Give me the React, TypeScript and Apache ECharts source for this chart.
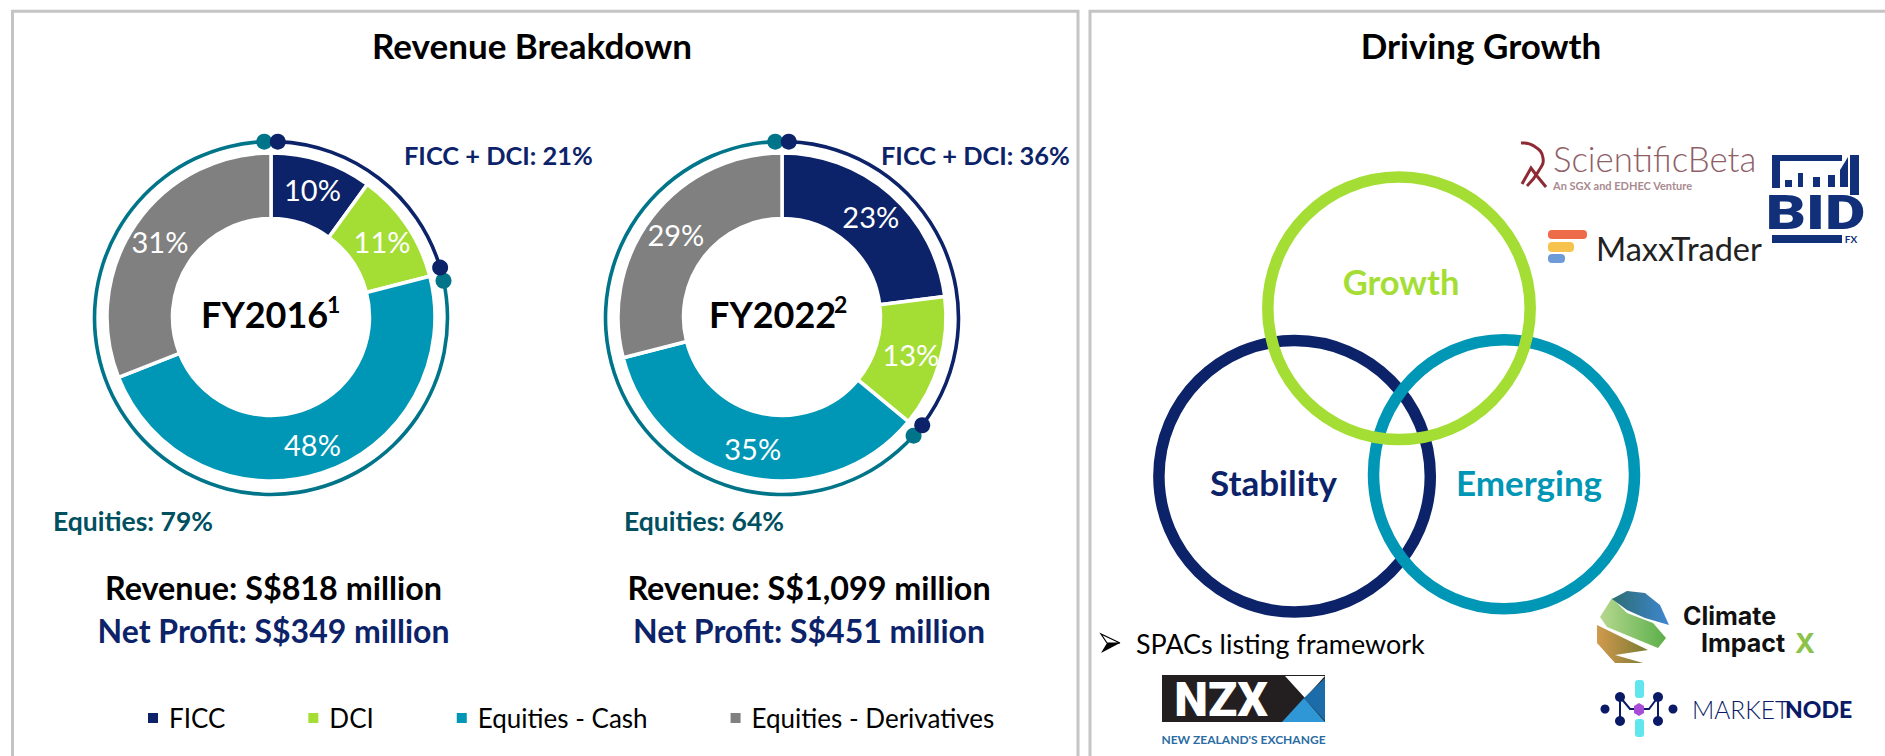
import React, { useEffect, useRef } from "react";
import * as echarts from "echarts";

const categories = ["FICC", "DCI", "Equities - Cash", "Equities - Derivatives"];
const colors = ["#0C2369", "#A4DE34", "#0096B5", "#808080"];
const fy2016 = [10, 11, 48, 31];
const fy2022 = [23, 13, 35, 29];
const groupNames = ["FICC + DCI", "Equities"];
const groups2016 = [21, 79];
const groups2022 = [36, 64];
const FONT = "Lato";
const NAVY = "#0C2369";
const RING_TEAL = "#00758A";
const DARK_TEAL = "#00505F";

const c1 = [271, 317];
const c2 = [782, 317];
const RING_R = 176.5;
const GAP = 4.4;

function T(text: string, x: number, y: number, size: number, weight: string | number, fill: string, align = "center", family = FONT, extra: any = {}): any {
  const { lineHeight, ...el } = extra;
  return {
    type: "text", x, y, z: 12, ...el,
    style: { text, fill, fontSize: size, fontWeight: weight, fontFamily: family, textAlign: align, textVerticalAlign: "middle", ...(lineHeight ? { lineHeight } : {}) },
  };
}
function R(x: number, y: number, width: number, height: number, fill: string, r = 0): any {
  return { type: "rect", z: 11, shape: { x, y, width, height, r }, style: { fill } };
}
function P(points: number[][], fill: any): any {
  return { type: "polygon", z: 11, shape: { points }, style: { fill } };
}
function L(points: number[][], stroke: string, lineWidth: number, smooth = 0): any {
  return { type: "polyline", z: 11, shape: { points, smooth }, style: { stroke, lineWidth, fill: "none" } };
}
function Dot(x: number, y: number, r: number, fill: string): any {
  return { type: "circle", z: 11, shape: { cx: x, cy: y, r }, style: { fill } };
}
function Ring(x: number, y: number, rx: number, ry: number, stroke: string, w: number): any {
  return { type: "ellipse", z: 11, shape: { cx: x, cy: y, rx, ry }, style: { fill: "none", stroke, lineWidth: w } };
}
function grad(a: string, b: string, horizontal = true): any {
  return { type: "linear", x: 0, y: 0, x2: horizontal ? 1 : 0, y2: horizontal ? 0 : 1, colorStops: [{ offset: 0, color: a }, { offset: 1, color: b }] };
}
function dotsFor(center: number[], groups: number[]): any[] {
  const sweep = (groups[0] / 100) * 360;
  const pt = (deg: number, fill: string) => {
    const a = (deg * Math.PI) / 180;
    return { type: "circle", z: 13, shape: { cx: center[0] + RING_R * Math.sin(a), cy: center[1] + 1 - RING_R * Math.cos(a), r: 8 }, style: { fill } };
  };
  return [pt(-GAP / 2, RING_TEAL), pt(sweep + GAP / 2, RING_TEAL), pt(GAP / 2, NAVY), pt(sweep - GAP / 2, NAVY)];
}
function donut(name: string, center: number[], values: number[]): any {
  return {
    type: "pie", name, center, radius: [98.5, 164], startAngle: 90, clockwise: true, silent: true,
    itemStyle: { borderColor: "#fff", borderWidth: 3.5 },
    label: { show: true, position: "inside", formatter: "{c}%", color: "#fff", fontSize: 29, fontFamily: FONT },
    labelLine: { show: false },
    data: categories.map((c, i) => ({ name: c, value: values[i], itemStyle: { color: colors[i] } })),
  };
}
function arcs(center: number[], groups: number[]): any {
  return {
    type: "pie", center: [center[0], center[1] + 1], radius: [RING_R - 1.8, RING_R + 1.8], startAngle: 90, silent: true,
    padAngle: GAP, label: { show: false }, labelLine: { show: false }, itemStyle: { borderWidth: 0 },
    data: groupNames.map((n, i) => ({ name: n, value: groups[i], itemStyle: { color: i === 0 ? NAVY : RING_TEAL } })),
  };
}

function panels(): any[] {
  const g = "#C4C4C4";
  return [
    L([[12.5, 756], [12.5, 11.3], [1078, 11.3], [1078, 756]], g, 3),
    L([[1090, 756], [1090, 11.3], [1885, 11.3]], g, 3),
  ];
}
function venn(): any[] {
  return [
    Ring(1294.6, 476.3, 135.7, 135.7, NAVY, 11.5),
    Ring(1504, 474.3, 130.5, 134.5, "#0096B5", 11.5),
    Ring(1399, 308.3, 131.2, 131.2, "#A4DE34", 11.5),
    T("Growth", 1401, 281, 34.5, 700, "#A4DE34"),
    T("Stability", 1273.5, 481.5, 35, 700, NAVY),
    T("Emerging", 1529, 481.5, 35, 700, "#0096B5"),
  ];
}
function logos(): any[] {
  const navy = "#12307A";
  const node = "#0B1A66";
  return [
    // Scientific Beta
    T("ScientificBeta", 1553, 158, 34.8, 300, "#8F5F68", "left", FONT, { lineHeight: 26 }),
    T("An SGX and EDHEC Venture", 1553, 185.5, 11, 700, "#A98A90", "left"),
    L([[1521, 143], [1534, 146], [1543, 158], [1538, 172], [1527, 186]], "#8E2A33", 3, 0.5),
    L([[1522, 184], [1531, 168], [1537, 176], [1546, 187]], "#8E2A33", 3),
    // BID FX
    R(1772, 155, 70, 6, navy), R(1772, 155, 8, 33, navy), R(1850, 155, 9, 40, navy),
    R(1785, 180, 7, 7, navy), R(1798, 173, 5, 14, navy), R(1813, 177, 7, 10, navy), R(1828, 175, 7, 12, navy),
    P([[1840, 187], [1840, 170], [1848, 157], [1848, 187]], navy),
    T("BID", 1815.5, 212.5, 48, 900, navy, "center", "Roboto", { scaleX: 1.3, lineHeight: 24 }),
    R(1772, 235, 70, 8, navy),
    T("FX", 1851, 239, 10, 700, navy),
    // MaxxTrader
    R(1548, 230, 39, 9, "#EE6B4A", 4), R(1548, 242, 26, 10, "#F6C34E", 4), R(1548, 254, 17, 9, "#6C9BD8", 4),
    T("MaxxTrader", 1596, 248, 32.5, 400, "#222", "left"),
    // Climate Impact X
    P([[1597, 625], [1648, 650], [1615, 655], [1643, 663], [1615, 663], [1597, 643]], grad("#D19A4D", "#7A7A33")),
    P([[1612, 598], [1600, 617], [1607, 627], [1658, 648], [1666, 638], [1653, 623], [1627, 613]], grad("#B6D88F", "#5CAF4A")),
    P([[1627, 591], [1645, 593], [1660, 605], [1669, 625], [1645, 618], [1627, 610], [1612, 599]], grad("#2C6E73", "#3F86D0")),
    T("Climate", 1683, 616, 25, 700, "#111", "left", "Inter"),
    T("Impact", 1701, 643, 25, 700, "#111", "left", "Inter"),
    T("X", 1795, 643, 27, 700, "#8BC34A", "left", "Inter"),
    // Marketnode
    R(1635, 680, 9, 18, "#62E6EE", 3), R(1635, 719, 9, 18, "#62E6EE", 3),
    L([[1620, 697], [1630, 709], [1649, 709], [1658, 697]], node, 2),
    L([[1620, 697], [1620, 721]], node, 2),
    L([[1658, 697], [1658, 721]], node, 2),
    Dot(1620, 697, 5, node), Dot(1658, 697, 5, node), Dot(1620, 721, 5, node), Dot(1658, 721, 5, node),
    Dot(1605, 709, 4.5, node), Dot(1673, 709, 4.5, node),
    P([[1634, 706], [1639, 703], [1644, 706], [1644, 713], [1639, 716], [1634, 713]], "#A84BD6"),
    T("MARKET", 1692, 709, 24.5, 300, node, "left"),
    T("NODE", 1785, 709, 23, 900, node, "left"),
    // NZX
    R(1162, 675, 163, 47, "#231F20"),
    T("NZX", 1221, 699, 48, 900, "#fff", "center", "Roboto"),
    P([[1285, 676], [1325, 676], [1305, 698]], "#fff"),
    P([[1325, 678], [1325, 721], [1304, 698]], "#1B6CA8"),
    P([[1282, 722], [1325, 722], [1304, 698]], "#2F97D5"),
    T("NEW ZEALAND'S EXCHANGE", 1243.5, 739, 12, 700, "#2B6CA3"),
  ];
}
function texts(): any[] {
  return [
    T("Revenue Breakdown", 532, 45, 35, 700, "#000"),
    T("Driving Growth", 1481, 45, 35, 700, "#000"),
    T("FY2016", 201, 314, 36, 700, "#000", "left"),
    T("1", 327, 304, 23, 700, "#000", "left"),
    T("FY2022", 709, 314, 36, 700, "#000", "left"),
    T("2", 834, 304, 23, 700, "#000", "left"),
    T(`${groupNames[0]}: ${groups2016[0]}%`, 404, 155, 25.4, 700, NAVY, "left"),
    T(`${groupNames[0]}: ${groups2022[0]}%`, 881, 155, 25.4, 700, NAVY, "left"),
    T(`${groupNames[1]}: ${groups2016[1]}%`, 53, 521, 26.5, 700, DARK_TEAL, "left"),
    T(`${groupNames[1]}: ${groups2022[1]}%`, 624, 521, 26.5, 700, DARK_TEAL, "left"),
    T("Revenue: S$818 million", 273.5, 587, 32.3, 700, "#000"),
    T("Net Profit: S$349 million", 273.5, 630, 32, 700, NAVY),
    T("Revenue: S$1,099 million", 809, 587, 32.3, 700, "#000"),
    T("Net Profit: S$451 million", 809, 630, 32, 700, NAVY),
    T("SPACs listing framework", 1136, 643, 26.9, 400, "#000", "left"),
    P([[1120, 643], [1101, 653], [1107, 643]], "#000"),
    L([[1107, 643], [1101, 634], [1120, 643], [1107, 643]], "#000", 1.2),
  ];
}

export default function App() {
  const ref = useRef<HTMLDivElement>(null);
  useEffect(() => {
    document.body.style.margin = "0";
    const chart = echarts.init(ref.current!, undefined, { renderer: "svg" });
    chart.setOption({
      animation: false,
      backgroundColor: "#fff",
      legend: {
        data: categories, left: 146, top: 705, padding: 0, itemWidth: 12, itemHeight: 12, itemGap: 81, icon: "rect", selectedMode: false,
        textStyle: { fontSize: 26, fontFamily: FONT, color: "#000", padding: [0, 0, 0, 5] },
      },
      series: [donut("FY2016", c1, fy2016), donut("FY2022", c2, fy2022), arcs(c1, groups2016), arcs(c2, groups2022)],
      graphic: { elements: [...panels(), ...dotsFor(c1, groups2016), ...dotsFor(c2, groups2022), ...texts(), ...venn(), ...logos()] },
    });
    return () => chart.dispose();
  }, []);
  return <div ref={ref} style={{ width: 1885, height: 756, position: "fixed", left: 0, top: 0 }} />;
}
